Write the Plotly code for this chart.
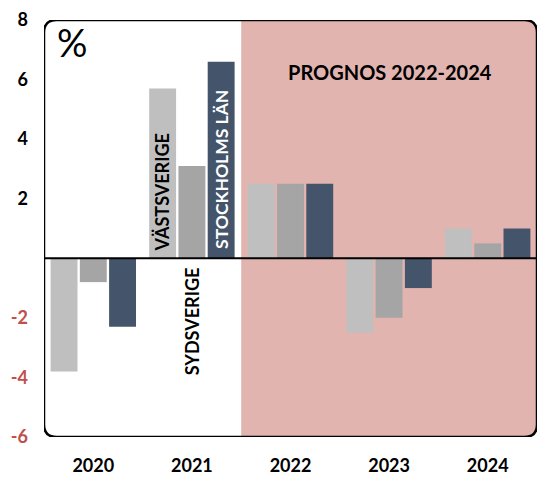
import plotly.graph_objects as go

years = ["2020", "2021", "2022", "2023", "2024"]
vastsverige = [-3.8, 5.7, 2.5, -2.5, 1.0]
sydsverige = [-0.8, 3.1, 2.5, -2.0, 0.5]
stockholm = [-2.3, 6.6, 2.5, -1.0, 1.0]

series_names = ["Västsverige", "Sydsverige", "Stockholms län"]
series_colors = ["#bfbfbf", "#a5a5a5", "#44546a"]

ytick_vals = [8, 6, 4, 2, -2, -4, -6]
RED = "#c0504d"
ytick_text = [f"<span style='color:{'black' if v > 0 else RED}'>{v}</span>" for v in ytick_vals]

FONT = "Lato"

fig = go.Figure()
x_idx = list(range(len(years)))
for name, vals, col in zip(series_names, [vastsverige, sydsverige, stockholm], series_colors):
    fig.add_trace(go.Bar(x=x_idx, y=vals, name=name, marker=dict(color=col, line=dict(width=0)),
                         showlegend=False, hoverinfo="skip"))

# shaded forecast region with rounded right corners
x0, x1, y0, y1 = 1.5, 4.5, -6.0, 8.0
rx, ry = 0.13, 0.42
fig.add_shape(type="path", xref="x", yref="y", layer="below", line=dict(width=0),
              fillcolor="#e2b4b0",
              path=(f"M {x0},{y0} L {x0},{y1} L {x1-rx},{y1} Q {x1},{y1} {x1},{y1-ry} "
                    f"L {x1},{y0+ry} Q {x1},{y0} {x1-rx},{y0} Z"))
# rounded frame
xl = -0.5
fig.add_shape(type="path", xref="x", yref="y", layer="above", line=dict(width=2.5, color="black"),
              path=(f"M {xl},{y0+ry} L {xl},{y1-ry} Q {xl},{y1} {xl+rx},{y1} L {x1-rx},{y1} "
                    f"Q {x1},{y1} {x1},{y1-ry} L {x1},{y0+ry} Q {x1},{y0} {x1-rx},{y0} "
                    f"L {xl+rx},{y0} Q {xl},{y0} {xl},{y0+ry} Z"))
# zero line
fig.add_shape(type="line", xref="x", yref="y", x0=xl, x1=x1, y0=0, y1=0,
              line=dict(width=2, color="black"), layer="above")

anns = [
    dict(x=-0.22, y=7.25, text="%", font=dict(size=38, family=FONT, color="black")),
    dict(x=3.01, y=6.25, text="<b>PROGNOS 2022-2024</b>", font=dict(size=20, family=FONT, color="black")),
    dict(x=0.70, y=2.22, text="<b>VÄSTSVERIGE</b>", textangle=-90, font=dict(size=18, family=FONT, color="black")),
    dict(x=1.305, y=3.0, text="<b>STOCKHOLMS LÄN</b>", textangle=-90, font=dict(size=17.5, family=FONT, color="white")),
    dict(x=1.01, y=-2.12, text="<b>SYDSVERIGE</b>", textangle=-90, font=dict(size=18, family=FONT, color="black")),
]
for a in anns:
    fig.add_annotation(xref="x", yref="y", showarrow=False, **a)

fig.update_layout(
    width=538, height=478,
    margin=dict(l=44, r=1, t=20, b=41, autoexpand=False),
    paper_bgcolor="white", plot_bgcolor="white",
    barmode="group", bargap=0.11, bargroupgap=0.08,
    font=dict(family=FONT, color="black"),
)
fig.update_xaxes(range=[-0.5, 4.5], tickvals=x_idx, ticktext=[f"<b>{y}</b>" for y in years],
                 tickfont=dict(size=18, family=FONT, color="black"), showgrid=False, zeroline=False,
                 showline=False, ticks="", ticklabelstandoff=16, automargin=False)
fig.update_yaxes(range=[-6, 8], tickvals=ytick_vals, ticktext=[f"<b>{t}</b>" for t in ytick_text],
                 tickfont=dict(size=18, family=FONT), showgrid=False, zeroline=False, showline=False,
                 ticks="", ticklabelstandoff=15, automargin=False)

fig.write_html("out.html", config={"displayModeBar": False},
               post_script="document.body.style.margin='0px';")
